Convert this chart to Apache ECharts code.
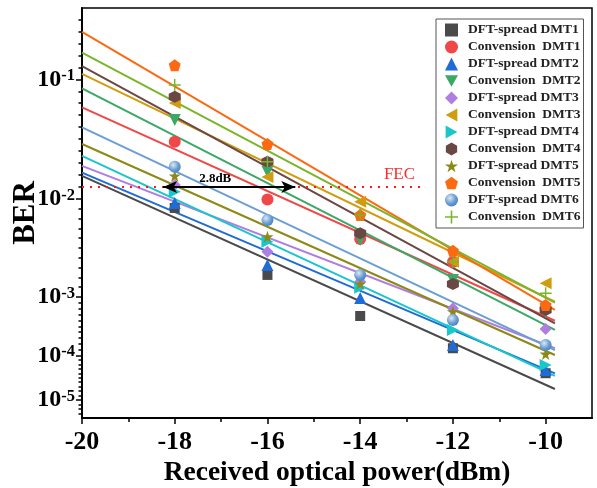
<!DOCTYPE html>
<html>
<head>
<meta charset="utf-8">
<script src="https://cdn.jsdelivr.net/npm/echarts@6/dist/echarts.min.js"></script>
<style>
html, body { margin: 0; padding: 0; background: #fff; }
#chart { width: 597px; height: 488px; }
</style>
</head>
<body>
<div id="chart"></div>
<script>
// received optical power (dBm) where BER was measured
var powers = [-18, -16, -14, -12, -10]
// x range covered by the fitted lines
var fitPowers = [-20, -9.8]

var names = ['DFT-spread DMT1', 'Convension  DMT1', 'DFT-spread DMT2', 'Convension  DMT2',
  'DFT-spread DMT3', 'Convension  DMT3', 'DFT-spread DMT4', 'Convension  DMT4',
  'DFT-spread DMT5', 'Convension  DMT5', 'DFT-spread DMT6', 'Convension  DMT6']

// measured BER
var dftDmt1 = [0.0081, 0.00168, 0.000473, 0.000133, 0.000040]
var convDmt1 = [0.0301, 0.0099, 0.00391, 0.00227, 0.00065]
var dftDmt2 = [0.0091, 0.00212, 0.00096, 0.000151, 0.000047]
var convDmt2 = [0.0457, 0.0169, 0.00382, 0.00149, 0.000555]
var dftDmt3 = [0.0131, 0.0029, 0.00143, 0.000641, 0.000284]
var convDmt3 = [0.0634, 0.0153, 0.00938, 0.00229, 0.00138]
var dftDmt4 = [0.0115, 0.00366, 0.00124, 0.000273, 0.000061]
var convDmt4 = [0.0716, 0.0205, 0.00446, 0.00136, 0.0006]
var dftDmt5 = [0.0156, 0.00412, 0.00136, 0.000561, 0.000106]
var convDmt5 = [0.131, 0.0288, 0.00687, 0.00297, 0.00073]
var dftDmt6 = [0.0186, 0.0061, 0.00168, 0.000405, 0.000151]
var convDmt6 = [0.0896, 0.0205, 0.00687, 0.00229, 0.00109]

// fitted line BER at fitPowers[0] and fitPowers[1]
var dftDmt1Fit = [0.0156, 1.77e-5]
var convDmt1Fit = [0.0583, 3.93e-4]
var dftDmt2Fit = [0.0166, 3.98e-5]
var convDmt2Fit = [0.0841, 2.73e-4]
var dftDmt3Fit = [0.0189, 1.33e-4]
var convDmt3Fit = [0.111, 8.3e-4]
var dftDmt4Fit = [0.0229, 3.5e-5]
var convDmt4Fit = [0.129, 3.55e-4]
var dftDmt5Fit = [0.0288, 1.02e-4]
var convDmt5Fit = [0.249, 6.0e-4]
var dftDmt6Fit = [0.0397, 1.24e-4]
var convDmt6Fit = [0.167, 8.0e-4]

var fecBer = 0.0126
var fecEnd = -12.6
var gapArrow = [-18.25, -15.4]
var gapLabel = '2.8dB'

var berData = [dftDmt1, convDmt1, dftDmt2, convDmt2, dftDmt3, convDmt3,
  dftDmt4, convDmt4, dftDmt5, convDmt5, dftDmt6, convDmt6]
var fitData = [dftDmt1Fit, convDmt1Fit, dftDmt2Fit, convDmt2Fit, dftDmt3Fit, convDmt3Fit,
  dftDmt4Fit, convDmt4Fit, dftDmt5Fit, convDmt5Fit, dftDmt6Fit, convDmt6Fit]

// BER axis of the original is not a plain log axis: decades have their own spans
var scaleExp = [-1, -2, -3, -4, -5]
var scalePos = [338.7, 219, 121, 62.5, 18]
var axisTop = 410

function toPos (ber) {
  var e = Math.log10(ber)
  if (e >= -1) return scalePos[0] + (e + 1) * (scalePos[0] - scalePos[1])
  if (e <= -5) return scalePos[4] + (e + 5) * (scalePos[3] - scalePos[4])
  var i = Math.floor(-e) - 1
  var t = scaleExp[i] - e
  return scalePos[i] + t * (scalePos[i + 1] - scalePos[i])
}

// evenly spaced minor ticks, 9 per decade
var minorPos = []
for (var k = 1; k <= 5; k++) minorPos.push(scalePos[0] + k * (scalePos[0] - scalePos[1]) / 10)
for (var d = 0; d < 4; d++) {
  for (var m = 1; m < 10; m++) minorPos.push(scalePos[d] + m * (scalePos[d + 1] - scalePos[d]) / 10)
}
for (var n = 1; n <= 3; n++) minorPos.push(scalePos[4] - n * (scalePos[3] - scalePos[4]) / 10)

var serif = 'Liberation Serif'
var colors = ['#4a4a4a', '#f04848', '#1f6cd6', '#3aa866', '#b07ee2', '#d09c10',
  '#18c6cc', '#6b4744', '#8c8a16', '#fb6a12', '#6b9fd3', '#7ab52a']
var symbols = [
  'rect',
  'circle',
  'triangle',
  'path://M0,0 L10,0 L5,9 Z',
  'diamond',
  'path://M0,5 L9,0 L9,10 Z',
  'path://M9,5 L0,0 L0,10 Z',
  'path://M5,0 L9.33,2.5 L9.33,7.5 L5,10 L0.67,7.5 L0.67,2.5 Z',
  'path://M5,0 L6.12,3.45 L9.76,3.45 L6.82,5.59 L7.94,9.05 L5,6.91 L2.06,9.05 L3.18,5.59 L0.24,3.45 L3.88,3.45 Z',
  'path://M5,0 L9.76,3.45 L7.94,9.05 L2.06,9.05 L0.24,3.45 Z',
  'circle',
  'path://M4.4,0 H5.6 V4.4 H10 V5.6 H5.6 V10 H4.4 V5.6 H0 V4.4 H4.4 Z'
]
var sizes = [10, 12, 12, 12, 12, 12, 12, 12, 12, 12, 12, 12]

var series = []
names.forEach(function (name, i) {
  series.push({
    name: 'fit ' + name,
    type: 'line',
    data: fitPowers.map(function (p, j) { return [p, toPos(fitData[i][j])] }),
    showSymbol: false,
    silent: true,
    z: 2,
    lineStyle: { color: colors[i], width: 2 }
  })
})
names.forEach(function (name, i) {
  var color = colors[i]
  if (i === 10) {
    color = {
      type: 'radial', x: 0.38, y: 0.35, r: 0.7,
      colorStops: [{ offset: 0, color: '#dbe8f7' }, { offset: 0.6, color: '#6b9fd3' }, { offset: 1, color: '#4a7fb8' }]
    }
  }
  series.push({
    name: name,
    type: 'scatter',
    data: powers.map(function (p, j) { return [p, toPos(berData[i][j])] }),
    symbol: symbols[i],
    symbolSize: sizes[i],
    z: 3,
    itemStyle: { color: color, opacity: 1 }
  })
})
series.push({
  name: 'annotations',
  type: 'line',
  data: [],
  z: 4,
  markLine: {
    silent: true,
    animation: false,
    data: [
      [{ coord: [fitPowers[0], toPos(fecBer)], symbol: 'none',
        lineStyle: { color: '#ff1a1a', width: 2, type: [2, 6] },
        label: { show: true, position: 'insideEndTop', formatter: 'FEC', color: '#ff2a2a',
          fontFamily: serif, fontSize: 17, distance: [10, 4] } },
      { coord: [fecEnd, toPos(fecBer)], symbol: 'none' }],
      [{ coord: [gapArrow[0], toPos(fecBer)], symbol: 'arrow', symbolSize: [9, 14],
        lineStyle: { color: '#000', width: 2, type: 'solid' },
        label: { show: true, position: 'insideMiddleTop', formatter: gapLabel, color: '#000',
          fontFamily: serif, fontWeight: 'bold', fontSize: 13, distance: 2, padding: [0, 28, 0, 0] } },
      { coord: [gapArrow[1], toPos(fecBer)], symbol: 'arrow', symbolSize: [9, 14] }]
    ]
  }
})

var chart = echarts.init(document.getElementById('chart'))
chart.setOption({
  animation: false,
  grid: { left: 82, right: 5, top: 8, bottom: 70, outerBoundsMode: 'none',
    show: true, borderColor: '#000', borderWidth: 1.5 },
  legend: {
    data: names,
    orient: 'vertical',
    left: 436,
    top: 19,
    itemWidth: 13,
    itemHeight: 13,
    itemGap: 3,
    padding: [4, 3, 4, 9],
    backgroundColor: '#fff',
    borderColor: '#555',
    borderWidth: 1,
    selectedMode: false,
    textStyle: { fontFamily: serif, fontWeight: 'bold', fontSize: 13.5, color: '#222', padding: [0, 0, 0, 5] }
  },
  xAxis: [{
    type: 'value',
    min: -20,
    max: -9,
    name: 'Received optical power(dBm)',
    nameLocation: 'middle',
    nameGap: 41,
    nameMoveOverlap: false,
    nameTextStyle: { fontFamily: serif, fontWeight: 'bold', fontSize: 27.5, color: '#000' },
    axisLine: { onZero: false, lineStyle: { color: '#000', width: 2 } },
    axisTick: { customValues: [-20, -18, -16, -14, -12, -10], length: 6, lineStyle: { color: '#000', width: 1.5 } },
    axisLabel: { customValues: [-20, -18, -16, -14, -12, -10], margin: 11,
      fontFamily: serif, fontWeight: 'bold', fontSize: 26, color: '#000' },
    splitLine: { show: false }
  }, {
    type: 'value',
    position: 'bottom',
    min: -20,
    max: -9,
    axisLine: { show: false },
    axisTick: { customValues: [-19, -17, -15, -13, -11], length: 4, lineStyle: { color: '#000', width: 1.5 } },
    axisLabel: { show: false },
    splitLine: { show: false }
  }],
  yAxis: [{
    type: 'value',
    min: 0,
    max: axisTop,
    name: 'BER',
    nameLocation: 'middle',
    nameGap: 41,
    nameMoveOverlap: false,
    nameTextStyle: { fontFamily: serif, fontWeight: 'bold', fontSize: 31, color: '#000' },
    axisLine: { onZero: false, lineStyle: { color: '#000', width: 2 } },
    axisTick: { customValues: scalePos, length: 6, lineStyle: { color: '#000', width: 1.5 } },
    axisLabel: {
      customValues: scalePos,
      margin: 7,
      formatter: function (v) {
        var best = 0
        scalePos.forEach(function (p, i) { if (Math.abs(p - v) < Math.abs(scalePos[best] - v)) best = i })
        return '{b|10}{s|' + scaleExp[best] + '}'
      },
      rich: {
        b: { fontFamily: serif, fontWeight: 'bold', fontSize: 24, color: '#000' },
        s: { fontFamily: serif, fontWeight: 'bold', fontSize: 16.5, color: '#000', verticalAlign: 'top', padding: [0, 0, 4, 0] }
      }
    },
    splitLine: { show: false }
  }, {
    type: 'value',
    position: 'left',
    min: 0,
    max: axisTop,
    axisLine: { show: false },
    axisTick: { customValues: minorPos, length: 3.5, lineStyle: { color: '#000', width: 1.5 } },
    axisLabel: { show: false },
    splitLine: { show: false }
  }],
  series: series
})
</script>
</body>
</html>
